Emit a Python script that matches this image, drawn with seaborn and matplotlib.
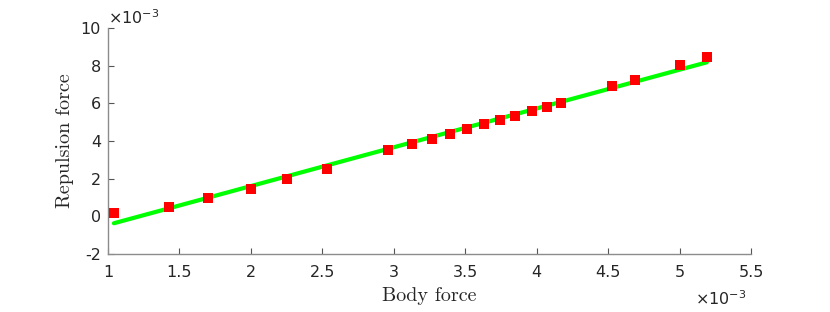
import numpy as np
import pandas as pd
import matplotlib
matplotlib.use("Agg")
import matplotlib.pyplot as plt
import seaborn as sns

# values in units of 1e-3
body_force = [1.042, 1.427, 1.70, 2.00, 2.25, 2.53, 2.96, 3.13, 3.27, 3.39, 3.51,
              3.63, 3.74, 3.85, 3.97, 4.07, 4.17, 4.53, 4.69, 5.00, 5.19]
repulsion_force = [0.20, 0.52, 0.95, 1.45, 1.99, 2.54, 3.50, 3.84, 4.13, 4.38, 4.63,
                   4.88, 5.12, 5.35, 5.62, 5.81, 6.02, 6.91, 7.24, 8.02, 8.46]
x_ticks = [1, 1.5, 2, 2.5, 3, 3.5, 4, 4.5, 5, 5.5]
y_ticks = [-2, 0, 2, 4, 6, 8, 10]

df = pd.DataFrame({"Body force": body_force, "Repulsion force": repulsion_force})

sns.set_style("white")
plt.rcParams["font.family"] = ["DejaVu Sans"]
plt.rcParams["axes.unicode_minus"] = False

fig = plt.figure(figsize=(8.3, 3.12), dpi=100)
ax = fig.add_axes([0.130, 0.186, 0.775, 0.724])

sns.regplot(data=df, x="Body force", y="Repulsion force", ax=ax, ci=None,
            scatter=False, line_kws=dict(color="#00ff00", lw=3.0, zorder=2))
sns.scatterplot(data=df, x="Body force", y="Repulsion force", ax=ax, marker="s",
                s=48, color="#ff0000", edgecolor="#ff0000", linewidth=0, zorder=3)

ax.set_xlim(1, 5.5)
ax.set_ylim(-2, 10)
ax.set_xticks(x_ticks)
ax.set_xticklabels([f"{t:g}" for t in x_ticks])
ax.set_yticks(y_ticks)
ax.set_yticklabels([f"{t:g}" for t in y_ticks])

for s in ["top", "right"]:
    ax.spines[s].set_visible(False)
for s in ["left", "bottom"]:
    ax.spines[s].set_color("#8c8c8c")
    ax.spines[s].set_linewidth(1.0)

ax.tick_params(direction="in", length=4, width=0.8, color="#555555",
               labelcolor="#262626", labelsize=11.5, bottom=True, left=True)
ax.tick_params(axis="x", pad=8)
ax.tick_params(axis="y", pad=5)

serif = ["cmr10", "DejaVu Serif"]
ax.set_xlabel("Body force", fontsize=14.5, family=serif, color="#262626", labelpad=5)
ax.set_ylabel("Repulsion force", fontsize=14.5, family=serif, color="#262626", labelpad=5)

ax.text(0.0, 1.005, r"$\times$10$^{\mathregular{-3}}$", transform=ax.transAxes,
        fontsize=11.5, color="#262626", ha="left", va="bottom")
ax.text(0.913, -0.155, r"$\times$10$^{\mathregular{-3}}$", transform=ax.transAxes,
        fontsize=11.5, color="#262626", ha="left", va="top")

fig.savefig("out.png", dpi=100)
